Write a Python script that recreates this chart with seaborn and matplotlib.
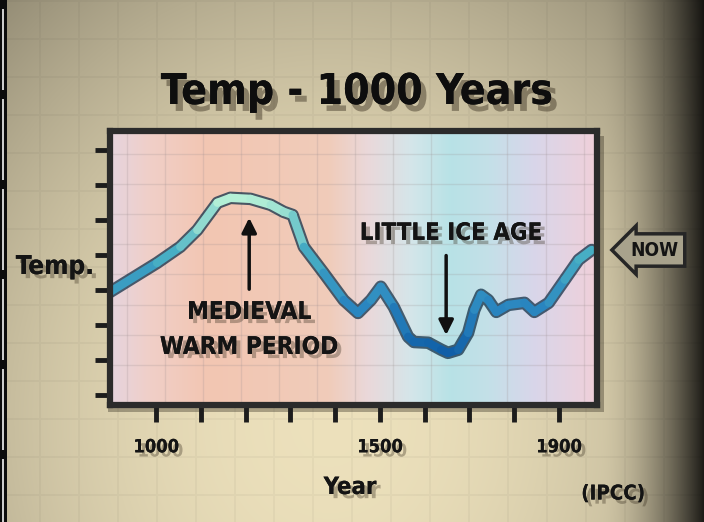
import numpy as np
import pandas as pd
import matplotlib
matplotlib.use("Agg")
import matplotlib.pyplot as plt
import matplotlib.patheffects as pe
from matplotlib import font_manager
from matplotlib.collections import LineCollection
from matplotlib.colors import LinearSegmentedColormap, Normalize
from matplotlib.patches import Rectangle
from matplotlib.ticker import MultipleLocator
import seaborn as sns

# ==========================
# DATA
# ==========================

years = [897, 1002, 1054, 1092, 1137, 1166, 1211, 1256, 1285, 1305, 1330,
         1374, 1419, 1451, 1480, 1502, 1531, 1563, 1576, 1608, 1637, 1652,
         1675, 1697, 1711, 1726, 1742, 1760, 1787, 1823, 1845, 1877, 1913,
         1944, 1973]
temp = [2.94, 3.77, 4.23, 4.71, 5.49, 5.63, 5.60, 5.43, 5.23, 5.14, 4.23,
        3.49, 2.71, 2.34, 2.71, 3.09, 2.51, 1.66, 1.51, 1.49, 1.29, 1.20,
        1.29, 1.77, 2.43, 2.86, 2.71, 2.37, 2.57, 2.63, 2.37, 2.63, 3.29,
        3.86, 4.14]

x_ticks = [1000, 1100, 1200, 1300, 1400, 1500, 1600, 1700, 1800, 1900]
x_tick_labels = ["1000", "", "", "", "", "1500", "", "", "", "1900"]
y_ticks = [0, 1, 2, 3, 4, 5, 6, 7]

df = pd.DataFrame({"Year": years, "Temp": temp})

W, H = 704, 522


# pick a narrow bold sans face if the box has one
def as_weight(w):
    return w if isinstance(w, (int, float)) else font_manager.weight_dict.get(w, 400)


narrow = None
for f in font_manager.fontManager.ttflist:
    n = f.name.lower()
    if "sans" not in n or "serif" in n or "mono" in n:
        continue
    if as_weight(f.weight) < 600:
        continue
    if "narrow" in n or "condensed" in n or f.stretch in (
            "condensed", "semi-condensed", "extra-condensed"):
        narrow = f
        if "liberation" in n or "dejavu" in n:
            break
FONT = [narrow.name, "DejaVu Sans"] if narrow else ["DejaVu Sans"]
STRETCH = narrow.stretch if narrow else "normal"

sns.set_style("white")
plt.rcParams["font.family"] = FONT
plt.rcParams["font.weight"] = "bold"
plt.rcParams["font.stretch"] = STRETCH

fig = plt.figure(figsize=(W / 100, H / 100), dpi=100)
renderer = fig.canvas.get_renderer()


def fit(txt, width_px):
    # scale the font so the text spans the width seen in the picture
    w = txt.get_window_extent(renderer).width
    txt.set_fontsize(txt.get_fontsize() * width_px / w)
    return txt


# ==========================
# WALL BACKGROUND
# ==========================

yy, xx = np.mgrid[0:H, 0:W].astype(float)
d = ((xx - 330) / 420) ** 2 + ((yy - 420) / 480) ** 2
light = 1.03 - 0.28 * d
right = np.clip((xx - 600) / 104, 0, 1)
light *= 1 - 0.85 * right ** 1.8
grid = ((xx.astype(int) % 39) < 2) | ((yy.astype(int) % 38) < 2)
light = np.where(grid, light * 0.965, light)
base = np.array([0.90, 0.855, 0.715])
img = np.clip(base * light[..., None], 0, 1)
img[:, :7] = 0.05
img[(yy[:, 0] % 90 > 8), 2:4] = 0.8

bg = fig.add_axes([0, 0, 1, 1], zorder=-10)
bg.imshow(img, aspect="auto", interpolation="bilinear")
bg.axis("off")

# frame drop shadow
fig.add_artist(Rectangle((108 / W, 1 - 412 / H), 496 / W, 276 / H,
                         transform=fig.transFigure, color="#2a2418",
                         alpha=0.35, zorder=-5, lw=0))

# ==========================
# MAIN PLOT
# ==========================

ax = fig.add_axes([110 / W, 1 - 405 / H, 487 / W, 274 / H])
ax.set_xlim(897, 1985)
ax.set_ylim(-0.29, 7.54)

# coloured wash behind the curve
wash = LinearSegmentedColormap.from_list("wash", [
    (0.00, "#e6d4de"), (0.08, "#f0cfc8"), (0.20, "#f3c6b2"),
    (0.45, "#f0ccba"), (0.53, "#ead8da"), (0.62, "#d4e6ea"),
    (0.70, "#b8e2e6"), (0.78, "#c4e0e8"), (0.87, "#d8d6ea"),
    (1.00, "#f0d0da")])
ax.imshow(np.linspace(0, 1, 256)[None, :], cmap=wash, aspect="auto",
          extent=[897, 1985, -0.29, 7.54], zorder=0)

ax.xaxis.set_minor_locator(MultipleLocator(85))
ax.yaxis.set_minor_locator(MultipleLocator(0.86))
ax.grid(which="minor", color="#9a8f90", alpha=0.22, lw=1)
ax.grid(which="major", visible=False)
ax.tick_params(which="minor", length=0)

# dark edge under the curve
sns.lineplot(data=df, x="Year", y="Temp", ax=ax, color="#123048",
             lw=9, alpha=0.75, zorder=3, solid_capstyle="round",
             solid_joinstyle="round")

# curve coloured by height
curve_cmap = LinearSegmentedColormap.from_list("curve", [
    (0.0, "#0f5ea6"), (0.3, "#2a86c0"), (0.65, "#48b0c4"),
    (1.0, "#b4f0d6")])
pts = np.column_stack([df["Year"], df["Temp"]])
segs = np.stack([pts[:-1], pts[1:]], axis=1)
mid = (df["Temp"].values[:-1] + df["Temp"].values[1:]) / 2
lc = LineCollection(segs, cmap=curve_cmap, norm=Normalize(1.2, 5.6),
                    lw=6, zorder=4, capstyle="round", joinstyle="round")
lc.set_array(mid)
ax.add_collection(lc)

for s in ax.spines.values():
    s.set_color("#2b2b2b")
    s.set_linewidth(4.5)
    s.set_zorder(6)

ax.set_xticks(x_ticks)
ax.set_xticklabels(x_tick_labels)
ax.set_yticks(y_ticks)
ax.set_yticklabels([])
ax.tick_params(axis="x", bottom=True, length=12, width=3.5, color="#1c1c1c",
               labelsize=18, pad=12, direction="out")
ax.tick_params(axis="y", left=True, length=11, width=3.5, color="#1c1c1c",
               direction="out")
ax.set_xlabel("")
ax.set_ylabel("")

shadow = [pe.withSimplePatchShadow(offset=(3, -3), shadow_rgbFace="#3a3020",
                                   alpha=0.35), pe.Normal()]

probe = fit(fig.text(0, 0, "1000", fontsize=18, fontweight="bold"), 46)
tick_size = probe.get_fontsize()
probe.remove()
for lab in ax.get_xticklabels():
    lab.set_fontweight("bold")
    lab.set_fontsize(tick_size)
    lab.set_color("#141414")
    lab.set_path_effects(shadow)

# ==========================
# ANNOTATIONS
# ==========================

arrow = dict(arrowstyle="-|>", color="#101010", lw=2.5, mutation_scale=22)
ax.annotate("", xy=(1208, 5.14), xytext=(1208, 2.94), arrowprops=arrow,
            zorder=5)
fit(ax.text(1208, 2.37, "MEDIEVAL", ha="center", va="center", fontsize=20,
            fontweight="bold", color="#141414", zorder=5,
            path_effects=shadow), 124)
fit(ax.text(1208, 1.37, "WARM PERIOD", ha="center", va="center",
            fontsize=20, fontweight="bold", color="#141414", zorder=5,
            path_effects=shadow), 178)

ax.annotate("", xy=(1648, 1.63), xytext=(1648, 4.06), arrowprops=arrow,
            zorder=5)
fit(ax.text(1659, 4.63, "LITTLE ICE AGE", ha="center", va="center",
            fontsize=20, fontweight="bold", color="#141414", zorder=5,
            path_effects=shadow), 182)

# ==========================
# FIGURE TEXT
# ==========================

fit(fig.text(357 / W, 1 - 92 / H, "Temp - 1000 Years", ha="center",
             va="center", fontsize=38, fontweight="bold", color="#0e0e0e",
             path_effects=[pe.withSimplePatchShadow(offset=(4, -5),
                                                    shadow_rgbFace="#3a3020",
                                                    alpha=0.45),
                           pe.Normal()]), 392)
fit(fig.text(55 / W, 1 - 267 / H, "Temp.", ha="center", va="center",
             fontsize=22, fontweight="bold", color="#141414",
             path_effects=shadow), 78)
fit(fig.text(350 / W, 1 - 487 / H, "Year", ha="center", va="center",
             fontsize=20, fontweight="bold", color="#141414",
             path_effects=shadow), 53)
fit(fig.text(613 / W, 1 - 494 / H, "(IPCC)", ha="center", va="center",
             fontsize=17, fontweight="bold", color="#141414",
             path_effects=shadow), 64)
now = fit(fig.text(654 / W, 1 - 250 / H, "NOW", ha="center", va="center",
                   fontsize=17, fontweight="bold", color="#141414"), 48)
now.set_bbox(dict(boxstyle="larrow,pad=0.35", fc="#a8a28c", ec="#262626",
                  lw=2.5))

plt.savefig("out.png", dpi=100)
